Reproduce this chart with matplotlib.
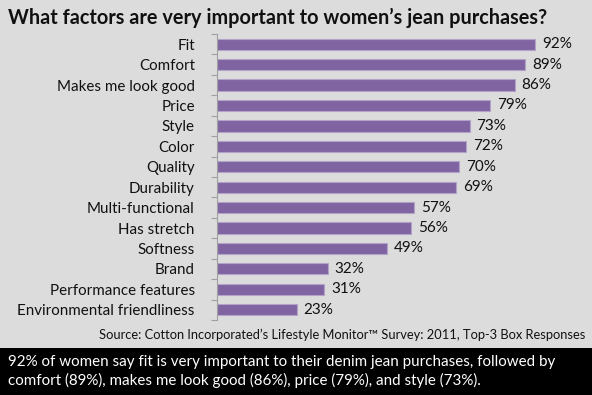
# Women's jean purchase factors (horizontal bar chart)
import matplotlib.pyplot as plt, numpy as np

factors = ["Fit", "Comfort", "Makes me look good", "Price", "Style", "Color", "Quality",
           "Durability", "Multi-functional", "Has stretch", "Softness", "Brand",
           "Performance features", "Environmental friendliness"]
percents = [92, 89, 86, 79, 73, 72, 70, 69, 57, 56, 49, 32, 31, 23]

title = "What factors are very important to women\u2019s jean purchases?"
source = "Source: Cotton Incorporated\u2019s Lifestyle Monitor\u2122 Survey: 2011, Top-3 Box Responses"
caption = ("92% of women say fit is very important to their denim jean purchases, followed by\n"
           "comfort (89%), makes me look good (86%), price (79%), and style (73%).")

plt.rcParams['font.family'] = ['Lato', 'DejaVu Sans']
bg = "#dcdcdc"

fig = plt.figure(figsize=(5.92, 3.95), dpi=100, facecolor=bg)
ax = fig.add_axes([0.3666, 0.19, 0.5844, 0.724])
ax.set_facecolor(bg)

y = np.arange(len(factors))
ax.barh(y, percents, height=0.55, color="#8064a2", edgecolor="#b3a2c7", linewidth=0.8)
for yi, v in zip(y, percents):
    ax.text(v + 2, yi, f"{v}%", va="center", ha="left", fontsize=11, color="#111111")

ax.set_xlim(0, 100)
ax.set_ylim(len(factors) - 0.5, -0.5)
ax.set_xticks([])
ax.set_yticks(y)
ax.set_yticklabels(factors, fontsize=10.9, color="#111111")
ax.tick_params(axis="y", which="major", length=0, pad=16)
ax.set_yticks(np.arange(-0.5, len(factors)), minor=True)
ax.tick_params(axis="y", which="minor", length=4, color="#a0a0a0", width=0.8)
for s in ["top", "right", "bottom"]:
    ax.spines[s].set_visible(False)
ax.spines["left"].set_color("#a0a0a0")
ax.spines["left"].set_linewidth(0.8)

fig.text(0.014, 0.955, title, fontsize=14.3, fontweight="bold", ha="left", va="center", color="#111111")
fig.text(0.988, 0.152, source, fontsize=9.3, ha="right", va="center", color="#111111")

# black caption box at the bottom
fig.patches.append(plt.Rectangle((0, 0), 1, 0.12, transform=fig.transFigure,
                                 facecolor="black", edgecolor="none"))
fig.text(0.014, 0.06, caption, fontsize=10.9, ha="left", va="center", color="white",
         linespacing=1.3)

fig.savefig("out.png", dpi=100, facecolor=bg)
